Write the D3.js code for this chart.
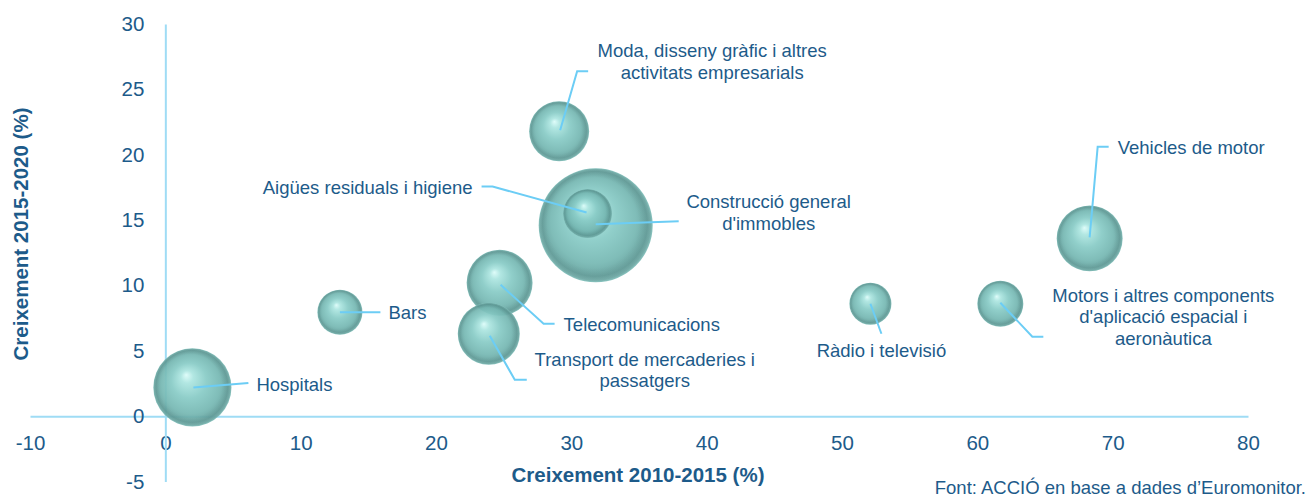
<!DOCTYPE html>
<html>
<head>
<meta charset="utf-8">
<script src="https://cdn.jsdelivr.net/npm/d3@7"></script>
<style>
  body { margin: 0; background: #fff; }
  svg text { font-family: "Liberation Sans", Arial, sans-serif; fill: #1d5b8a; }
</style>
</head>
<body>
<div id="chart"></div>
<script>
var width = 1309;
var height = 497;

// data
var sectors = ["Hospitals", "Bars", "Telecomunicacions", "Transport de mercaderies i passatgers",
    "Moda, disseny gràfic i altres activitats empresarials", "Construcció general d'immobles",
    "Aigües residuals i higiene", "Ràdio i televisió",
    "Motors i altres components d'aplicació espacial i aeronàutica", "Vehicles de motor"];
var growth1015 = [2.0, 12.9, 24.7, 23.9, 29.1, 31.8, 31.2, 52.1, 61.7, 68.3];
var growth1520 = [2.2, 7.95, 10.2, 6.3, 21.8, 14.6, 15.5, 8.6, 8.6, 13.6];
var bubbleSize = [47, 15.6, 33.5, 29.6, 27.7, 100, 18.5, 13.6, 16.3, 33.5];

var xTicks = [-10, 0, 10, 20, 30, 40, 50, 60, 70, 80];
var yTicks = [-5, 0, 5, 10, 15, 20, 25, 30];

// label layout: text lines, anchor, offset of text from bubble centre, leader bends (px)
var labelLayout = [
    { lines: ["Hospitals"], anchor: "start", dx: 64, dy: -3.5, leader: [[1, 0], [56, -4.5]] },
    { lines: ["Bars"], anchor: "start", dx: 48.5, dy: 0, leader: [[0, 0], [40.5, 0]] },
    { lines: ["Telecomunicacions"], anchor: "start", dx: 64, dy: 42, leader: [[1, 2], [44, 41], [55, 41]] },
    { lines: ["Transport de mercaderies i", "passatgers"], anchor: "middle", dx: 156, dy: 36, leader: [[1, 2], [26, 46], [38, 46]] },
    { lines: ["Moda, disseny gràfic i altres", "activitats empresarials"], anchor: "middle", dx: 153, dy: -70, leader: [[1, -1], [18, -60], [29, -60]] },
    { lines: ["Construcció general", "d'immobles"], anchor: "middle", dx: 173, dy: -13, leader: [[0, -1], [83, -4]] },
    { lines: ["Aigües residuals i higiene"], anchor: "end", dx: -115, dy: -26, leader: [[-1, -1], [-95, -27], [-106, -27]] },
    { lines: ["Ràdio i televisió"], anchor: "middle", dx: 11, dy: 47, leader: [[0, 0], [11, 30]] },
    { lines: ["Motors i altres components", "d'aplicació espacial i", "aeronàutica"], anchor: "middle", dx: 163, dy: 13, leader: [[0, -1], [32, 33], [43, 33]] },
    { lines: ["Vehicles de motor"], anchor: "start", dx: 28, dy: -91.5, leader: [[0, -1], [8, -91.5], [19, -91.5]] }
];

var svg = d3.select("#chart").append("svg")
    .attr("width", width)
    .attr("height", height);

var xScale = d3.scaleLinear().domain([-10, 80]).range([30, 1248]);
var yScale = d3.scaleLinear().domain([-5, 30]).range([481.5, 24]);
var rScale = d3.scaleSqrt().domain([0, 100]).range([0, 57]);

// sphere shading
var defs = svg.append("defs");
var grad = defs.append("radialGradient")
    .attr("id", "sphere")
    .attr("cx", "50%").attr("cy", "50%").attr("r", "50%")
    .attr("fx", "42%").attr("fy", "34%");
grad.append("stop").attr("offset", "0%").attr("stop-color", "#dcfcf9");
grad.append("stop").attr("offset", "16%").attr("stop-color", "#ace5e0");
grad.append("stop").attr("offset", "45%").attr("stop-color", "#88cbc6");
grad.append("stop").attr("offset", "75%").attr("stop-color", "#76b8b3");
grad.append("stop").attr("offset", "92%").attr("stop-color", "#64a29e");
grad.append("stop").attr("offset", "100%").attr("stop-color", "#86c6c1");

var rim = defs.append("radialGradient")
    .attr("id", "rim")
    .attr("cx", "50%").attr("cy", "50%").attr("r", "50%")
    .attr("fx", "38%").attr("fy", "38%");
rim.append("stop").attr("offset", "80%").attr("stop-color", "#2c4f4d").attr("stop-opacity", 0);
rim.append("stop").attr("offset", "97%").attr("stop-color", "#2c4f4d").attr("stop-opacity", 0.16);
rim.append("stop").attr("offset", "100%").attr("stop-color", "#2c4f4d").attr("stop-opacity", 0.04);

// axes through zero
var axisColor = "#9fdcf5";

var xAxis = svg.append("g")
    .attr("transform", "translate(0," + yScale(0) + ")")
    .call(d3.axisBottom(xScale).tickValues(xTicks).tickSize(0).tickPadding(19)
        .tickFormat(function(d) { return String(d); }));
xAxis.select(".domain").attr("stroke", axisColor).attr("stroke-width", 2);

var yAxis = svg.append("g")
    .attr("transform", "translate(" + xScale(0) + ",0)")
    .call(d3.axisLeft(yScale).tickValues(yTicks).tickSize(0).tickPadding(21)
        .tickFormat(function(d) { return String(d); }));
yAxis.select(".domain").attr("stroke", axisColor).attr("stroke-width", 2);

svg.selectAll(".tick text")
    .attr("font-size", "20.5px")
    .attr("font-family", "Liberation Sans, Arial, sans-serif")
    .attr("fill", "#1d5b8a");

// bubbles
var bubbles = svg.append("g");
sectors.forEach(function(name, i) {
    var cx = xScale(growth1015[i]), cy = yScale(growth1520[i]), r = rScale(bubbleSize[i]);
    bubbles.append("circle")
        .attr("cx", cx).attr("cy", cy).attr("r", r)
        .attr("fill", "url(#sphere)")
        .attr("fill-opacity", 0.93);
    bubbles.append("circle")
        .attr("cx", cx).attr("cy", cy).attr("r", r)
        .attr("fill", "url(#rim)");
});

// leaders and labels
var labelG = svg.append("g");
var fs = 18.5, lineH = 21.5;
sectors.forEach(function(name, i) {
    var cx = xScale(growth1015[i]), cy = yScale(growth1520[i]);
    var lay = labelLayout[i];
    labelG.append("path")
        .attr("d", d3.line()(lay.leader.map(function(p) { return [cx + p[0], cy + p[1]]; })))
        .attr("fill", "none")
        .attr("stroke", "#6ccdf5")
        .attr("stroke-width", 2);
    var n = lay.lines.length;
    var t = labelG.append("text")
        .attr("text-anchor", lay.anchor)
        .attr("font-size", fs + "px");
    lay.lines.forEach(function(line, k) {
        var midY = cy + lay.dy + (k - (n - 1) / 2) * lineH;
        t.append("tspan")
            .attr("x", cx + lay.dx)
            .attr("y", midY + fs * 0.36)
            .text(line);
    });
});

// axis titles
svg.append("text")
    .attr("x", 638)
    .attr("y", 482)
    .attr("text-anchor", "middle")
    .attr("font-size", "20.5px")
    .attr("font-weight", "bold")
    .text("Creixement 2010-2015 (%)");

svg.append("text")
    .attr("transform", "translate(28,234) rotate(-90)")
    .attr("text-anchor", "middle")
    .attr("font-size", "20.5px")
    .attr("font-weight", "bold")
    .text("Creixement 2015-2020 (%)");

// source
svg.append("text")
    .attr("x", 1306)
    .attr("y", 494)
    .attr("text-anchor", "end")
    .attr("font-size", "18.5px")
    .text("Font: ACCIÓ en base a dades d\u2019Euromonitor.");
</script>
</body>
</html>
